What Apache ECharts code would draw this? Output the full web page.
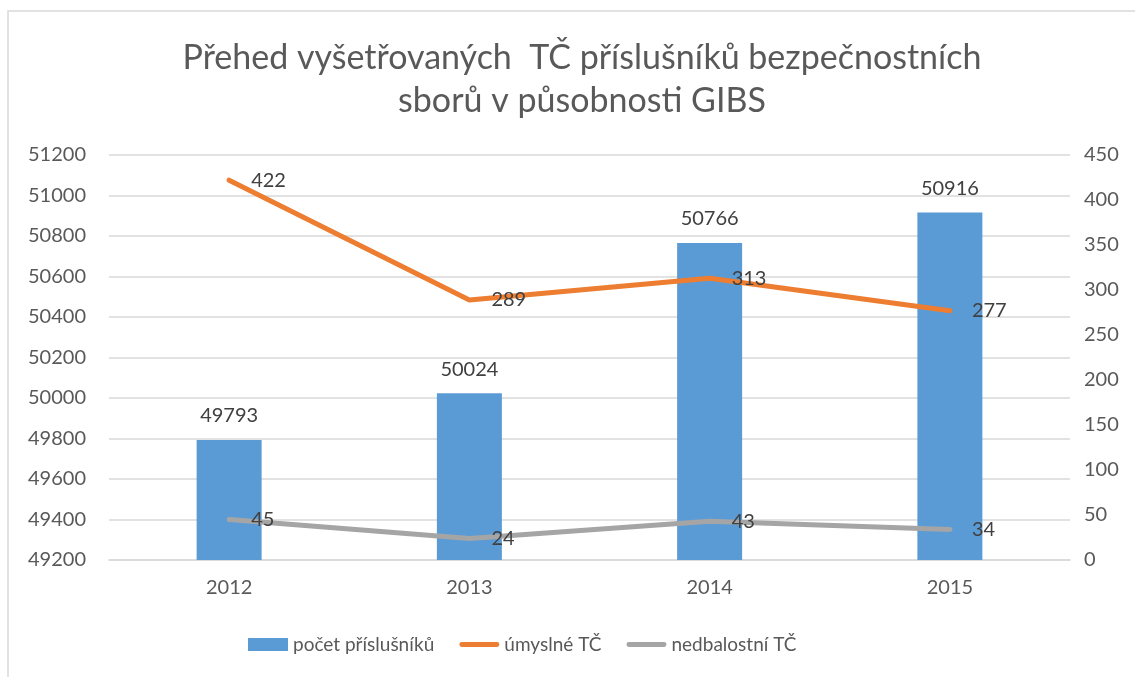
<!DOCTYPE html>
<html>
<head>
<meta charset="utf-8">
<script src="https://cdn.jsdelivr.net/npm/echarts@6/dist/echarts.min.js"></script>
<style>
  html, body { margin: 0; padding: 0; background: #fff; }
  #chart { width: 1135px; height: 677px; }
</style>
</head>
<body>
<div id="chart"></div>
<script>
const years = ['2012', '2013', '2014', '2015'];
const pocetPrislusniku = [49793, 50024, 50766, 50916];
const umyslneTC = [422, 289, 313, 277];
const nedbalostniTC = [45, 24, 43, 34];

const font = 'Lato, "Noto Sans", sans-serif';
const axisText = { color: '#595959', fontSize: 20, fontFamily: font };
const labelText = { color: '#404040', fontSize: 20, fontFamily: font };
const lineIcon = 'path://M2.5,0H39.5A2.5,2.5,0,0,1,39.5,5H2.5A2.5,2.5,0,0,1,2.5,0Z';

const chart = echarts.init(document.getElementById('chart'));
chart.setOption({
  animation: false,
  textStyle: { fontFamily: font },
  title: {
    text: 'Přehed vyšetřovaných  TČ příslušníků bezpečnostních\nsborů v působnosti GIBS',
    left: 577,
    textAlign: 'center',
    top: 32,
    textStyle: { color: '#595959', fontSize: 34, fontWeight: 'normal', lineHeight: 43, fontFamily: font }
  },
  graphic: [{
    type: 'rect',
    shape: { x: 8, y: 11, width: 1300, height: 1000 },
    style: { fill: 'none', stroke: '#d9d9d9', lineWidth: 1.5 },
    silent: true
  }],
  grid: { left: 109, right: 65, top: 155, bottom: 117 },
  legend: {
    bottom: 18,
    left: 243,
    itemGap: 25,
    itemWidth: 40,
    itemHeight: 13,
    textStyle: { color: '#595959', fontSize: 19, fontFamily: font },
    data: [
      { name: 'počet příslušníků', icon: 'rect' },
      { name: 'úmyslné TČ', icon: lineIcon },
      { name: 'nedbalostní TČ', icon: lineIcon }
    ]
  },
  xAxis: {
    type: 'category',
    data: years,
    axisLine: { lineStyle: { color: '#d9d9d9', width: 1.5 } },
    axisTick: { show: false },
    axisLabel: Object.assign({ margin: 18 }, axisText)
  },
  yAxis: [{
    type: 'value',
    min: 49200,
    max: 51200,
    interval: 200,
    axisLine: { show: false },
    axisTick: { show: false },
    axisLabel: Object.assign({ margin: 23, formatter: v => String(v) }, axisText),
    splitLine: { lineStyle: { color: '#d9d9d9', width: 1.5 } }
  }, {
    type: 'value',
    min: 0,
    max: 450,
    interval: 50,
    axisLine: { show: false },
    axisTick: { show: false },
    axisLabel: Object.assign({ margin: 14 }, axisText),
    splitLine: { show: false }
  }],
  series: [{
    name: 'počet příslušníků',
    type: 'bar',
    data: pocetPrislusniku,
    barWidth: 65,
    itemStyle: { color: '#5B9BD5' },
    label: Object.assign({ show: true, position: 'top', distance: 14 }, labelText)
  }, {
    name: 'úmyslné TČ',
    type: 'line',
    yAxisIndex: 1,
    data: umyslneTC,
    symbol: 'circle',
    symbolSize: 0,
    lineStyle: { color: '#ED7D31', width: 5, cap: 'round' },
    itemStyle: { color: '#ED7D31' },
    label: Object.assign({ show: true, position: 'right', distance: 22 }, labelText)
  }, {
    name: 'nedbalostní TČ',
    type: 'line',
    yAxisIndex: 1,
    data: nedbalostniTC,
    symbol: 'circle',
    symbolSize: 0,
    lineStyle: { color: '#A5A5A5', width: 5, cap: 'round' },
    itemStyle: { color: '#A5A5A5' },
    label: Object.assign({ show: true, position: 'right', distance: 22 }, labelText)
  }]
});
</script>
</body>
</html>
